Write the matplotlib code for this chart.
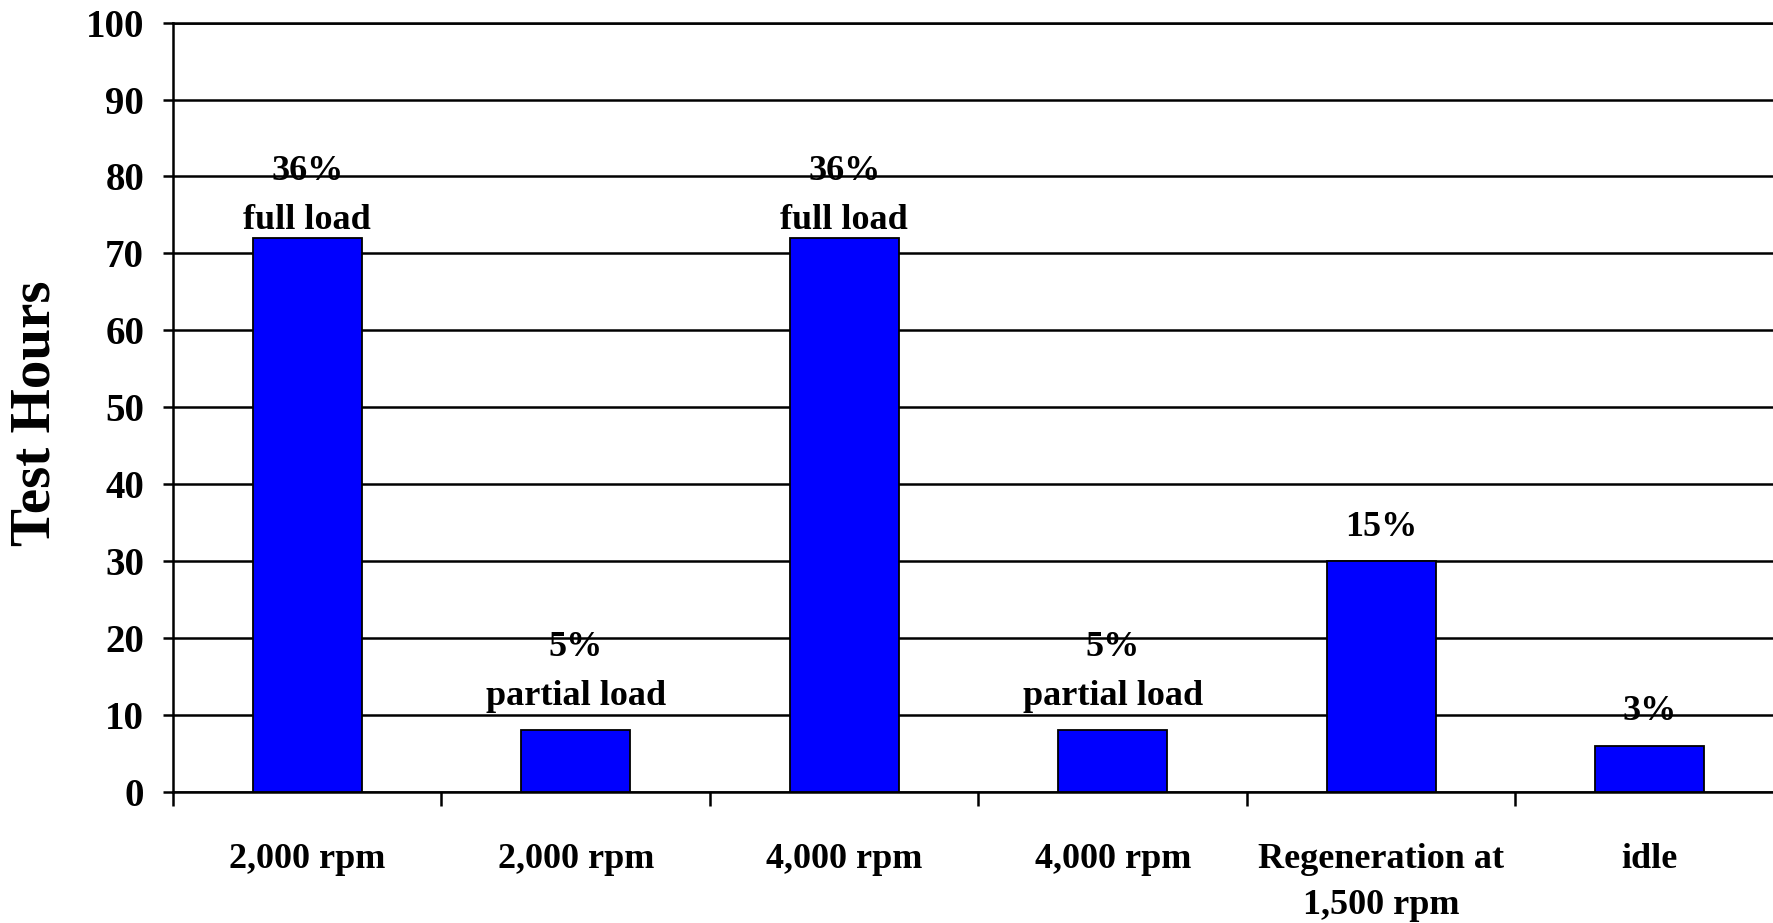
import matplotlib
matplotlib.use("Agg")
import matplotlib.pyplot as plt
from matplotlib.ticker import FixedLocator, NullFormatter

# Test cycle: hours spent at each operating point
categories = ["2,000 rpm", "2,000 rpm", "4,000 rpm", "4,000 rpm",
              "Regeneration at\n1,500 rpm", "idle"]
test_hours = [72, 8, 72, 8, 30, 6]
share_labels = ["36%", "5%", "36%", "5%", "15%", "3%"]
load_labels = ["full load", "partial load", "full load", "partial load", "", ""]
y_ticks = [0, 10, 20, 30, 40, 50, 60, 70, 80, 90, 100]

# gap (px) between bar top and the baseline of the lowest label line
label_gap_px = [9, 25, 9, 25, 25, 26]
line_step_px = 49

plt.rcParams["font.family"] = ["Liberation Serif", "DejaVu Serif"]
plt.rcParams["font.weight"] = "bold"

W, H = 1774, 923
fig = plt.figure(figsize=(W / 100, H / 100), dpi=100)
ax = fig.add_axes([173 / W, (H - 792) / H, 1611 / W, (792 - 22.6) / H])

x = list(range(len(categories)))
ax.bar(x, test_hours, width=0.405, color="#0000FF", edgecolor="black",
       linewidth=1.3, zorder=3)

ax.set_xlim(-0.5, len(categories) - 0.5)
ax.set_ylim(0, 100)

# horizontal gridlines
ax.set_yticks(y_ticks)
ax.yaxis.grid(True, color="black", linewidth=1.8)
ax.set_axisbelow(True)

ax.spines["right"].set_visible(False)
for side in ("top", "left", "bottom"):
    ax.spines[side].set_linewidth(1.8)

ax.tick_params(axis="y", direction="out", length=7.2, width=1.8, pad=13.5,
               labelsize=28)

# category labels centred, tick marks on the category boundaries
ax.set_xticks(x)
ax.set_xticklabels(categories, fontsize=26, linespacing=1.5)
ax.tick_params(axis="x", which="major", length=0, pad=37)
ax.xaxis.set_minor_locator(FixedLocator([i - 0.5 for i in range(len(categories))]))
ax.xaxis.set_minor_formatter(NullFormatter())
ax.tick_params(axis="x", which="minor", direction="out", length=10, width=1.8)

for t in ax.get_yticklabels() + ax.get_xticklabels():
    t.set_fontweight("bold")

# value labels above each bar
for xi, h, share, load, gap in zip(x, test_hours, share_labels, load_labels, label_gap_px):
    lines = [l for l in (share, load) if l]
    for k, text in enumerate(reversed(lines)):
        ax.annotate(text, xy=(xi, h), xytext=(0, (gap + k * line_step_px) * 0.72),
                    textcoords="offset points", ha="center", va="baseline",
                    fontsize=26, fontweight="bold", zorder=4)

fig.text(36 / W, (H - 413) / H, "Test Hours", rotation=90, ha="center",
         va="center", fontsize=41, fontweight="bold")

fig.savefig("out.png", dpi=100, facecolor="white")
